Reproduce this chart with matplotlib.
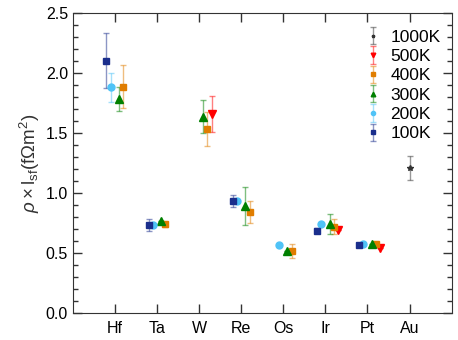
import numpy as np
import matplotlib
matplotlib.use('Agg')
import matplotlib.pyplot as plt
from matplotlib.colors import to_rgba
from matplotlib.ticker import MultipleLocator

plt.rcParams['font.family'] = ['Liberation Sans', 'DejaVu Sans']
plt.rcParams['mathtext.fontset'] = 'custom'
plt.rcParams['mathtext.rm'] = 'Liberation Sans'
plt.rcParams['mathtext.it'] = 'Liberation Sans:italic'

nan = np.nan
elements = ['Hf', 'Ta', 'W', 'Re', 'Os', 'Ir', 'Pt', 'Au']

# values and error bars per temperature (nan = no data)
v100 = [2.10, 0.73, nan, 0.93, nan, 0.686, 0.567, nan]
e100 = [0.23, 0.05, 0, 0.05, 0, 0.02, 0.01, 0]
v200 = [1.88, 0.73, nan, 0.93, 0.57, 0.745, 0.575, nan]
e200 = [0.12, 0, 0, 0, 0, 0, 0, 0]
v300 = [1.78, 0.77, 1.635, 0.89, 0.515, 0.74, 0.578, nan]
e300 = [0.10, 0, 0.14, 0.16, 0, 0.085, 0, 0]
v400 = [1.885, 0.74, 1.53, 0.84, 0.515, 0.72, 0.575, nan]
e400 = [0.18, 0.02, 0.14, 0.09, 0.06, 0.06, 0, 0]
v500 = [nan, nan, 1.66, nan, nan, 0.69, 0.545, nan]
e500 = [0, 0, 0.15, 0, 0, 0, 0, 0]
v1000 = [nan, nan, nan, nan, nan, nan, nan, 1.21]
e1000 = [0, 0, 0, 0, 0, 0, 0, 0.10]

x = np.arange(1, len(elements) + 1)

fig = plt.figure(figsize=(4.58, 3.40), dpi=100)
ax = fig.add_axes([0.159, 0.079, 0.827, 0.884])

series = [
    ('1000K', v1000, e1000, 0.0, '#333333', '*', 4),
    ('500K', v500, e500, 0.3, '#ff0000', 'v', 5.5),
    ('400K', v400, e400, 0.2, '#e07d00', 's', 5),
    ('300K', v300, e300, 0.1, '#008000', '^', 5.5),
    ('200K', v200, e200, -0.1, '#4fc3f7', 'o', 5),
    ('100K', v100, e100, -0.2, '#1a2e8c', 's', 4.5),
]

for lab, v, e, off, c, m, ms in series:
    ax.errorbar(x + off, v, yerr=e, fmt=m, color=c, ms=ms,
                ecolor=to_rgba(c, 0.5), elinewidth=1, capsize=2.5,
                capthick=1, label=lab)

ax.set_xlim(0, 9)
ax.set_ylim(0, 2.5)
ax.set_xticks(x)
ax.set_xticklabels(elements)
ax.yaxis.set_major_locator(MultipleLocator(0.5))
ax.yaxis.set_minor_locator(MultipleLocator(0.1))
ax.yaxis.set_major_formatter(matplotlib.ticker.FormatStrFormatter('%.1f'))
ax.tick_params(which='both', direction='in', top=True, right=True,
               labelsize=11.5, color='#333333')
ax.tick_params(which='major', length=6.5, width=1)
ax.tick_params(which='minor', length=3.5, width=1)
ax.tick_params(axis='x', pad=6)
for s in ax.spines.values():
    s.set_color('#333333')

ax.set_ylabel(r'$\it{\rho}\times\mathrm{l_{sf}(f\Omega m^2)}$', fontsize=13.5,
              color='#333333', labelpad=3)

ax.legend(loc='upper right', frameon=False, fontsize=12.5, handlelength=1.0,
          handletextpad=0.5, labelspacing=0.24, borderaxespad=0.5,
          markerscale=0.6, bbox_to_anchor=(1.012, 0.995))

fig.savefig('out.png', dpi=100)
